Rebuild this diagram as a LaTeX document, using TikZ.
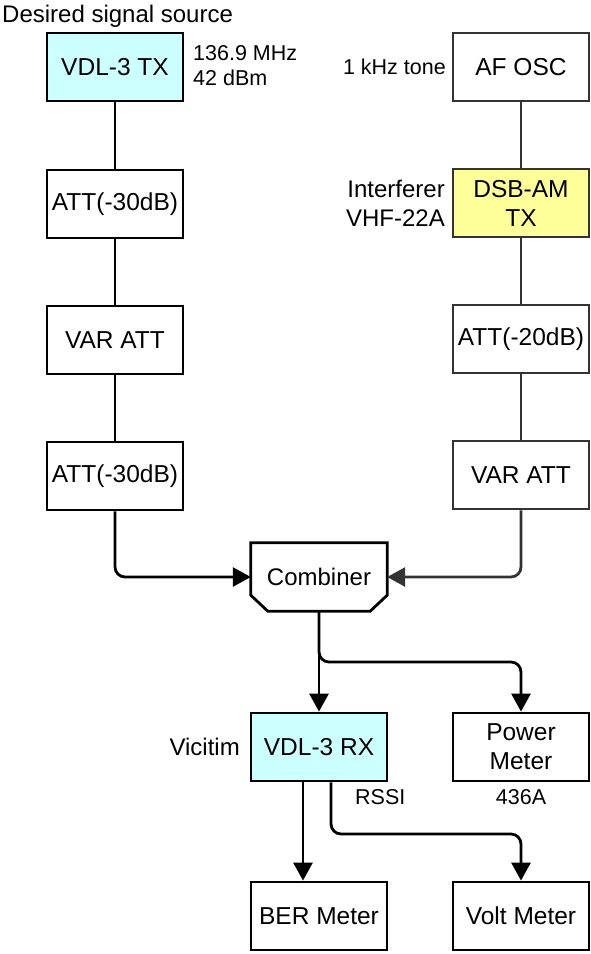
\documentclass[tikz,border=0pt]{standalone}
\usepackage{fontspec}
\setmainfont{Liberation Sans}
\usetikzlibrary{arrows.meta}
\definecolor{rxcyan}{HTML}{CCFFFF}
\definecolor{amyellow}{HTML}{FFFF99}
\definecolor{darkline}{HTML}{333333}
\tikzset{
  blk/.style={draw, line width=2.8pt, minimum width=136pt, minimum height=68pt,
    inner sep=0pt, align=center, font=\fontsize{24.5}{29}\selectfont},
  lbl/.style={inner sep=0pt, font=\fontsize{24}{29}\selectfont},
  small/.style={inner sep=0pt, font=\fontsize{21.5}{25}\selectfont},
  wire/.style={line width=2.8pt, rounded corners=10pt},
  tip/.style={-{Triangle[length=18pt,width=19pt]}}
}
\begin{document}
\begin{tikzpicture}[x=1pt,y=-1pt]
  \useasboundingbox (0,0) rectangle (590,954);
  % desired signal chain
  \node[blk, fill=rxcyan] (tx) at (115,67) {VDL-3 TX};
  \node[blk] (att1) at (115,204) {ATT(-30dB)};
  \node[blk] (var1) at (115,340) {VAR ATT};
  \node[blk] (att2) at (115,476) {ATT(-30dB)};
  \node[lbl, anchor=west] (dss) at (2,16) {Desired signal source};
  \node[small, anchor=west, align=left] (txinfo) at (193,66) {136.9 MHz\\42 dBm};
  % interferer chain
  \begin{scope}[every node/.append style={draw=darkline}]
    \node[blk] (afosc) at (521,67) {AF OSC};
    \node[blk, fill=amyellow] (dsb) at (521,203) {DSB-AM\\TX};
    \node[blk] (att3) at (521,339) {ATT(-20dB)};
    \node[blk] (var2) at (521,475) {VAR ATT};
  \end{scope}
  \node[small, anchor=east] (tone) at (446,67) {1 kHz tone};
  \node[lbl, anchor=east, align=right] (intf) at (445,203) {Interferer\\VHF-22A};
  % combiner
  \node[lbl, minimum width=136pt, minimum height=68pt] (comb) at (319,577) {Combiner};
  \draw[line width=2.8pt, line join=miter] (comb.north west) -- (comb.north east)
    -- ([yshift=16pt]comb.south east) -- ([xshift=-17pt]comb.south east)
    -- ([xshift=17pt]comb.south west) -- ([yshift=16pt]comb.south west) -- cycle;
  % receivers
  \node[blk, fill=rxcyan] (rx) at (319,747) {VDL-3 RX};
  \node[blk] (pwr) at (521,747) {Power\\Meter};
  \node[blk] (ber) at (319,916) {BER Meter};
  \node[blk] (volt) at (521,916) {Volt Meter};
  \node[lbl, anchor=east] (vict) at (240,747) {Vicitim};
  \node[small, anchor=west] (rssi) at (355,797) {RSSI};
  \node[small] (model) at (521,797) {436A};
  % connections
  \draw[wire] (tx) -- (att1);
  \draw[wire] (att1) -- (var1);
  \draw[wire] (var1) -- (att2);
  \draw[wire, tip] (att2.south) |- (comb.west);
  \draw[wire, darkline] (afosc) -- (dsb);
  \draw[wire, darkline] (dsb) -- (att3);
  \draw[wire, darkline] (att3) -- (var2);
  \draw[wire, darkline, tip] (var2.south) |- (comb.east);
  \coordinate (split) at (319,662);
  \draw[wire, tip] (comb.south) -- (rx.north);
  \draw[wire, tip] (comb.south) -- (split) -| (pwr.north);
  \coordinate (rssiout) at (331,834);
  \draw[wire, tip] ([xshift=-16pt]rx.south) -- ([xshift=-16pt]ber.north);
  \draw[wire, tip] ([xshift=12pt]rx.south) -- (rssiout) -| (volt.north);
\end{tikzpicture}
\end{document}
